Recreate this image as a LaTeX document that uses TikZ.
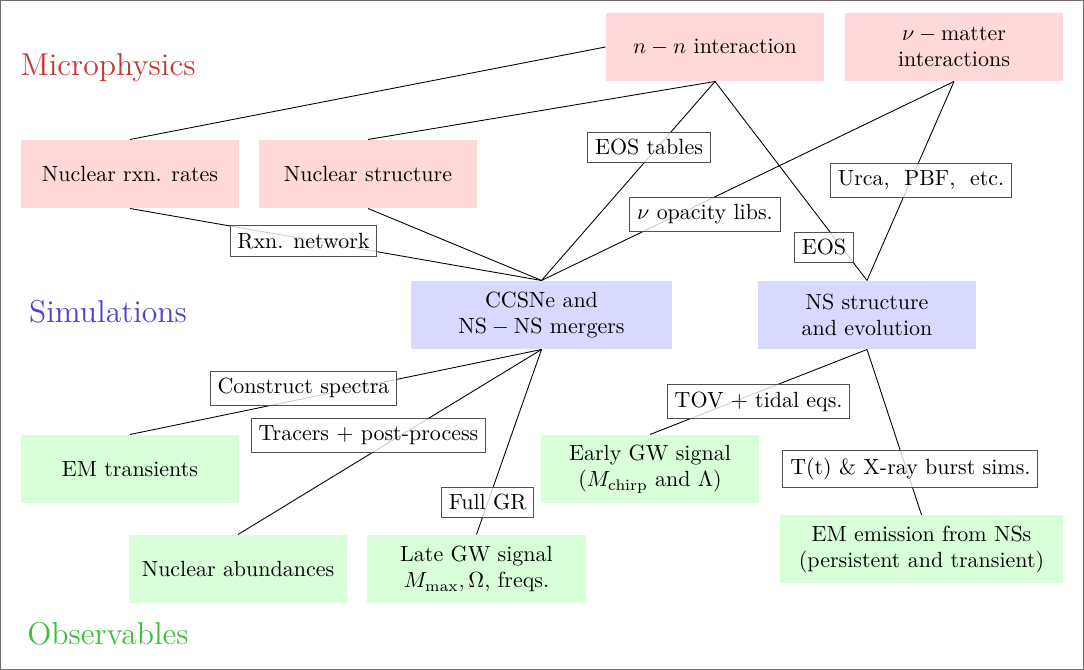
\documentclass[tikz,border=0pt]{standalone}
\usepackage{amsmath, amssymb}
\usepackage{tikz}
\usetikzlibrary{positioning, calc}
\usepackage{xcolor}
\definecolor{MicroRed}{RGB}{200, 55, 55}
\definecolor{SimBlue}{RGB}{70, 70, 205}
\definecolor{ObsGreen}{RGB}{60, 190, 60}
\definecolor{Frame}{RGB}{110, 110, 110}
\definecolor{LabelGray}{RGB}{80, 80, 80}

\begin{document}
\begin{tikzpicture}[
    micro/.style={fill=red!15, minimum width=3.49cm, minimum height=1.09cm, align=center},
    sim/.style={fill=blue!15, minimum width=3.49cm, minimum height=1.09cm, align=center},
    obs/.style={fill=green!15, minimum width=3.49cm, minimum height=1.09cm, align=center},
    lbl/.style={draw=LabelGray, fill=white, fill opacity=0.8, text opacity=1},
    cat/.style={font=\Large, anchor=base}
  ]
      % Frame
      \useasboundingbox (0,0) rectangle (17.344, 10.72);
      \draw[Frame, line width=0.6pt] (0.01,0.01) rectangle (17.334, 10.71);
      % Row headings
      \node[cat, MicroRed] (hmicro) at (1.728, 9.512) {Microphysics};
      \node[cat, SimBlue] (hsim) at (1.728, 5.552) {Simulations};
      \node[cat, ObsGreen] (hobs) at (1.728, 0.4) {Observables};
      % Microphysics
      \node[micro] (nn) at (11.44, 9.968) {$n-n$ interaction};
      \node[micro] (numat) at (15.264, 9.968) {$\nu-\text{matter}$\\interactions};
      \node[micro] (rates) at (2.08, 7.936) {Nuclear rxn. rates};
      \node[micro] (struct) at (5.888, 7.936) {Nuclear structure};
      % Simulations
      \node[sim, minimum width=4.19cm] (ccsn) at (8.664, 5.68) {CCSNe and\\$\mathrm{NS-NS}$ mergers};
      \node[sim] (nsevo) at (13.872, 5.68) {NS structure\\and evolution};
      % Observables
      \node[obs] (emt) at (2.08, 3.216) {EM transients};
      \node[obs] (early) at (10.4, 3.216) {Early GW signal\\($M_{\rm chirp}$ and $\Lambda$)};
      \node[obs] (abund) at (3.808, 1.616) {Nuclear abundances};
      \node[obs] (late) at (7.624, 1.616) {Late GW signal\\$M_{\rm max}, \Omega,$ freqs.};
      \node[obs, minimum width=4.53cm] (emns) at (14.744, 1.931) {EM emission from NSs\\(persistent and transient)};
      % Links
      \draw (nn.west) -- (rates.north);
      \draw (nn.south) -- (struct.north);
      \draw (nn.south) -- (ccsn.north);
      \draw (nn.south) -- (nsevo.north);
      \draw (numat.south) -- (ccsn.north);
      \draw (numat.south) -- (nsevo.north);
      \draw (rates.south) -- (ccsn.north);
      \draw (struct.south) -- (ccsn.north);
      \draw (ccsn.south) -- (emt.north);
      \draw (ccsn.south) -- (abund.north);
      \draw (ccsn.south) -- (late.north);
      \draw (nsevo.south) -- (early.north);
      \draw (nsevo.south) -- (emns.north);
      % Link labels
      \node[lbl] (rxnnet) at (4.856, 6.864) {Rxn. network};
      \node[lbl] (eostab) at (10.384, 8.36) {EOS tables};
      \node[lbl] (nuopac) at (11.28, 7.288) {$\nu$ opacity libs.};
      \node[lbl] (eos) at (13.184, 6.76) {EOS};
      \node[lbl] (urca) at (14.736, 7.832) {Urca,~ PBF,~ etc.};
      \node[lbl] (spectra) at (4.856, 4.507) {Construct spectra};
      \node[lbl] (tracers) at (5.896, 3.752) {Tracers $+$ post-process};
      \node[lbl] (fullgr) at (7.802, 2.683) {Full GR};
      \node[lbl] (tov) at (12.138, 4.293) {TOV $+$ tidal eqs.};
      \node[lbl] (ttburst) at (14.566, 3.221) {T(t) \& X-ray burst sims.};
\end{tikzpicture}
\end{document}
